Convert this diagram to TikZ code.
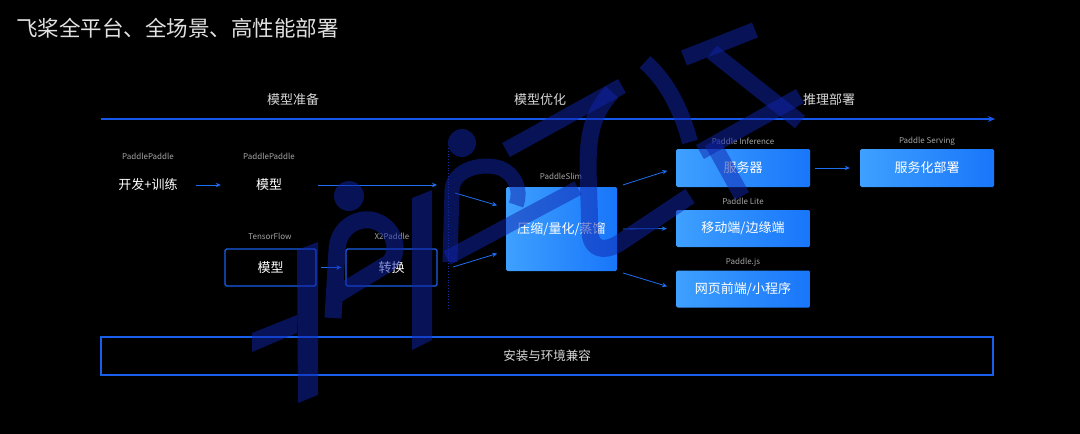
\documentclass[tikz,border=0pt]{standalone}
\usepackage{fontspec}
\setmainfont{Noto Sans CJK SC}
\usetikzlibrary{arrows.meta,calc}
\definecolor{titlegray}{RGB}{225,225,225}
\definecolor{headgray}{RGB}{215,215,215}
\definecolor{smallgray}{RGB}{165,165,165}
\definecolor{lineblue}{RGB}{22,88,235}
\definecolor{arrowblue}{RGB}{30,110,240}
\definecolor{boxblue}{RGB}{25,95,235}
\definecolor{gl}{RGB}{62,160,255}
\definecolor{gr}{RGB}{24,118,250}
\definecolor{dotblue}{RGB}{25,45,150}
\definecolor{wm}{RGB}{16,36,172}
\tikzset{
  titletext/.style={anchor=west, text=titlegray, font=\fontsize{21.5}{24}\selectfont, inner sep=0pt},
  headtext/.style={text=headgray, font=\fontsize{13}{15}\selectfont, inner sep=0pt},
  smalltext/.style={text=smallgray, font=\fontsize{8}{9}\selectfont, inner sep=0pt},
  plaintext/.style={text=white, font=\fontsize{13}{15}\selectfont, inner sep=0pt},
  obox/.style={draw=boxblue, line width=1.3pt, minimum width=91pt, minimum height=37pt, rounded corners=1.5pt, text=white, font=\fontsize{13}{15}\selectfont},
  gbox/.style={left color=gl, right color=gr, draw=none, rounded corners=1.5pt, minimum width=134pt, minimum height=38pt, text=white, font=\fontsize{13}{15}\selectfont},
  arr/.style={draw=arrowblue, line width=0.8pt, -{Stealth[length=5pt,width=4.5pt]}},
  wmstroke/.style={draw=wm, line width=17pt, opacity=0.5},
  wmfill/.style={fill=wm, opacity=0.5}
}
\begin{document}
\begin{tikzpicture}[x=1pt,y=-1pt]
\fill[black] (0,0) rectangle (1080,434);
\useasboundingbox (0,0) rectangle (1080,434);

% title
\node[titletext] (title) at (16,28) {飞桨全平台、全场景、高性能部署};

% timeline
\coordinate (tl0) at (101,119);
\coordinate (tl1) at (995,119);
\draw[draw=lineblue, line width=1.6pt, -{Stealth[length=7pt,width=6pt]}] (tl0) -- (tl1);
\node[headtext] (h1) at (293,100) {模型准备};
\node[headtext] (h2) at (540,100) {模型优化};
\node[headtext] (h3) at (829,100) {推理部署};

% model preparation
\node[smalltext] (l1) at (148,156) {PaddlePaddle};
\node[plaintext] (dev) at (148,185) {开发+训练};
\node[smalltext] (l2) at (269,156) {PaddlePaddle};
\node[plaintext] (pm) at (269,185) {模型};
\node[smalltext] (l3) at (270,236) {TensorFlow};
\node[obox] (tf) at (270.5,267.5) {模型};
\node[smalltext] (l4) at (392,236) {X2Paddle};
\node[obox] (x2) at (391.5,267.5) {转换};

\coordinate (c1) at (437,185);
\draw[arr, shorten <=18pt, shorten >=35pt] (dev) -- (pm);
\draw[arr, shorten <=36pt] (pm) -- (c1);
\draw[arr, shorten <=4pt, shorten >=4pt] (tf) -- (x2);

% dotted separator
\coordinate (d0) at (448,148);
\coordinate (d1) at (448,308);
\draw[dotblue, line width=0.8pt, dotted] (d0) -- (d1);

% PaddleSlim
\node[smalltext] (l5) at (561,176) {PaddleSlim};
\node[gbox, minimum width=111pt, minimum height=84pt] (slim) at (561.5,229) {压缩/量化/蒸馏};
\coordinate (g1) at (455,193);
\coordinate (g2) at (453,267);
\draw[arr, shorten >=9pt] (g1) -- ($(slim.north west)!0.25!(slim.south west)$);
\draw[arr, shorten >=9pt] (g2) -- ($(slim.north west)!0.76!(slim.south west)$);

% inference boxes
\node[smalltext] (l6) at (743,141) {Paddle Inference};
\node[gbox] (inf) at (743,168) {服务器};
\node[smalltext] (l7) at (743,201) {Paddle Lite};
\node[gbox, minimum height=37pt] (lite) at (743,228.5) {移动端/边缘端};
\node[smalltext] (l8) at (743,262) {Paddle.js};
\node[gbox, minimum height=37pt] (js) at (743,289) {网页前端/小程序};
\node[smalltext] (l9) at (927,141) {Paddle Serving};
\node[gbox] (serv) at (927,168) {服务化部署};

\draw[arr, shorten <=6pt, shorten >=9pt] (slim.north east) -- (inf.west);
\draw[arr, shorten <=6pt, shorten >=9pt] (slim.east) -- (lite.west);
\draw[arr, shorten <=6pt, shorten >=9pt] (slim.south east) -- (js.west);
\draw[arr, shorten <=5pt, shorten >=10pt] (inf) -- (serv);

% bottom bar
\node[draw=boxblue, line width=1.3pt, minimum width=892pt, minimum height=38pt, text=headgray, font=\fontsize{12.5}{14}\selectfont] (env) at (547,356) {安装与环境兼容};

% watermark (semi-transparent overlay)
\fill[wmfill] (297,250) -- (318,242) -- (318,395) -- (298,403) -- cycle;
\fill[wmfill] (252,333) -- (297,315) -- (297,333) -- (252,352) -- cycle;
\fill[wmfill] (349,196) circle[radius=15];
\draw[wmstroke, line join=round] (333,318) -- (337,250) .. controls (338,228) and (356,218) .. (371,220) .. controls (393,224) and (402,250) .. (389,263) -- (333,297);
\fill[wmfill] (412,198) -- (432,190) -- (432,340) -- (412,350) -- cycle;
\fill[wmfill] (462,143) circle[radius=14];
\draw[wmstroke, line width=15pt, line join=round] (450,262) -- (452,190) .. controls (453,170) and (480,162) .. (500,168) .. controls (515,174) and (522,190) .. (516,205);
\draw[wmstroke, line width=15pt] (447,258) -- (578,188);
\draw[wmstroke, line width=16pt] (506,150) -- (622,86);
\draw[wmstroke, line width=17pt, line join=round] (612,92) .. controls (590,115) and (588,140) .. (588,170) -- (590,232) .. controls (591,250) and (604,252) .. (618,244) -- (690,196);
\draw[wmstroke, line width=16pt] (645,62) .. controls (668,82) and (682,112) .. (690,142);
\draw[wmstroke, line width=16pt] (684,58) -- (755,30);
\draw[wmstroke, line width=16pt] (712,52) -- (800,122);
\draw[wmstroke, line width=16pt] (700,152) -- (800,96);
\draw[wmstroke, line width=16pt] (712,142) -- (742,196);
\end{tikzpicture}
\end{document}
